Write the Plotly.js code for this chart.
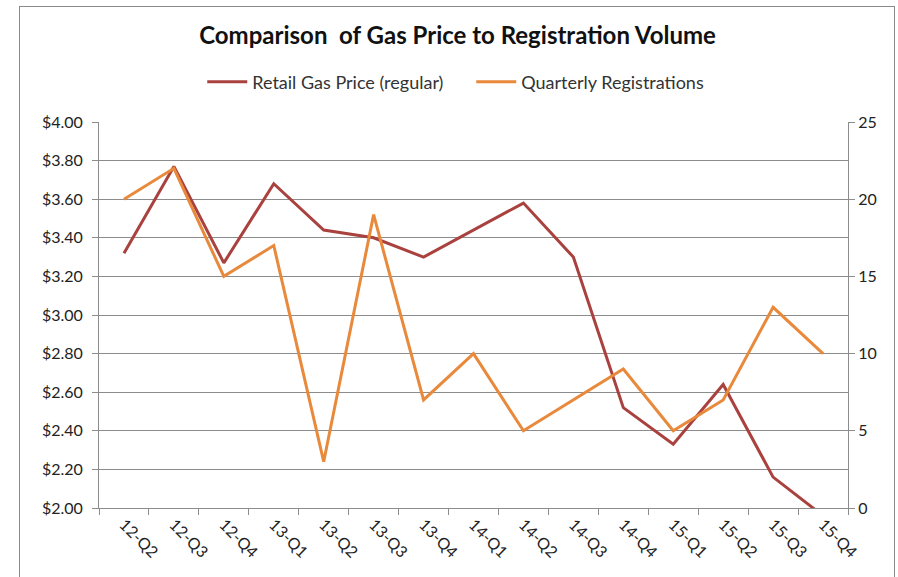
<!DOCTYPE html>
<html>
<head>
<meta charset="utf-8">
<script src="https://cdn.plot.ly/plotly-3.0.1.min.js"></script>
<style>
html,body{margin:0;padding:0;background:#fff;}
#wrap{position:relative;width:898px;height:577px;overflow:hidden;}
#chart{width:898px;height:577px;}
#frame{position:absolute;left:19px;top:6px;width:876px;height:620px;border:1.5px solid #8a8a8a;pointer-events:none;box-sizing:border-box;}
</style>
</head>
<body>
<div id="wrap">
<div id="chart"></div>
<div id="frame"></div>
</div>
<script>
const quarters = ["12-Q2","12-Q3","12-Q4","13-Q1","13-Q2","13-Q3","13-Q4","14-Q1","14-Q2","14-Q3","14-Q4","15-Q1","15-Q2","15-Q3","15-Q4"];
const gasPrice = [3.32,3.77,3.27,3.68,3.44,3.40,3.30,3.44,3.58,3.30,2.52,2.33,2.64,2.16,1.96];
const registrations = [20,22,15,17,3,19,7,10,5,7,9,5,7,13,10];
const leftTicks = [2.0,2.2,2.4,2.6,2.8,3.0,3.2,3.4,3.6,3.8,4.0];
const rightTicks = [0,5,10,15,20,25];

const FONT = "Lato, 'Open Sans', 'Liberation Sans', sans-serif";
const grid = "#8c8c8c";

const traces = [
  {x: quarters, y: gasPrice, name: "Retail Gas Price (regular)", type: "scatter", mode: "lines",
   line: {color: "#A9423F", width: 3}, yaxis: "y"},
  {x: quarters, y: registrations, name: "Quarterly Registrations", type: "scatter", mode: "lines",
   line: {color: "#E8893B", width: 3}, yaxis: "y2"}
];

const layout = {
  width: 898, height: 577,
  margin: {l: 99, r: 50, t: 122, b: 69, pad: 0},
  paper_bgcolor: "#fff", plot_bgcolor: "#fff",
  font: {family: FONT, size: 15, color: "#222"},
  title: {text: "<b>Comparison  of Gas Price to Registration Volume</b>", xref: "container", x: 0.5095,
          xanchor: "center", yref: "container", y: 0.9376, yanchor: "middle",
          font: {family: FONT, size: 24, color: "#111"}},
  showlegend: true,
  legend: {orientation: "h", x: 0.497, xanchor: "center", y: 1.1036, yanchor: "middle",
           font: {family: FONT, size: 18, color: "#333"}, itemwidth: 40, tracegroupgap: 0,
           entrywidth: 214, entrywidthmode: "pixels"},
  xaxis: {type: "category", categoryarray: quarters, tickangle: 45, showgrid: false,
          showline: true, linecolor: grid, linewidth: 1, ticks: "outside", tickson: "boundaries",
          ticklen: 6, tickcolor: grid, tickfont: {family: FONT, size: 16, color: "#222"},
          range: [-0.5, quarters.length - 0.5], zeroline: false},
  yaxis: {range: [2, 4], tickvals: leftTicks, ticktext: leftTicks.map(v => "$" + v.toFixed(2)),
          showgrid: true, gridcolor: grid, gridwidth: 1, showline: true, linecolor: grid,
          ticks: "outside", ticklen: 6, tickcolor: grid, zeroline: false, ticklabelstandoff: 6,
          tickfont: {family: FONT, size: 16, color: "#222"}},
  yaxis2: {range: [0, 25], tickvals: rightTicks, overlaying: "y", side: "right",
           showgrid: false, showline: true, linecolor: grid, ticks: "outside", ticklen: 6,
           tickcolor: grid, zeroline: false, tickfont: {family: FONT, size: 16, color: "#222"}}
};

Plotly.newPlot("chart", traces, layout, {displayModeBar: false, staticPlot: true});
</script>
</body>
</html>
